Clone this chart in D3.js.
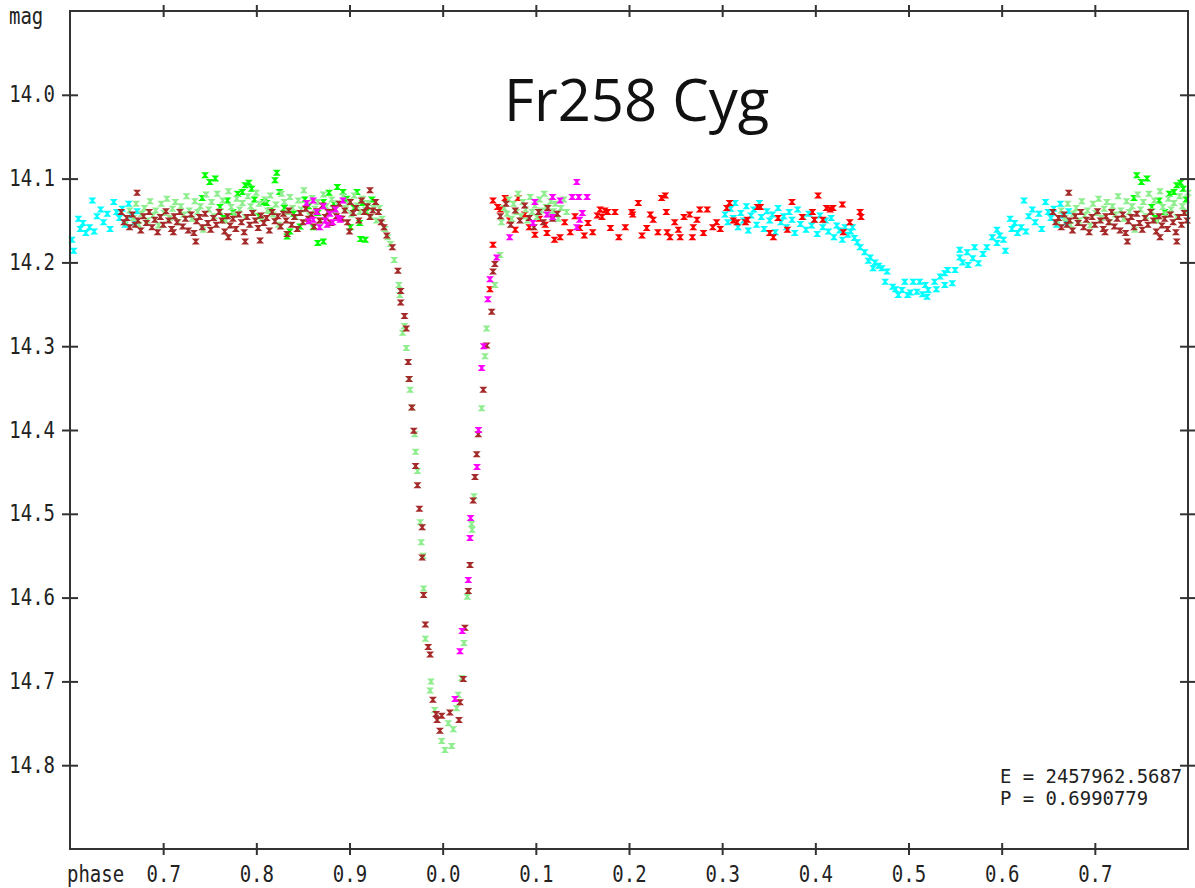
<!DOCTYPE html>
<html><head><meta charset="utf-8">
<script src="https://cdn.jsdelivr.net/npm/d3@7"></script>
<style>body{margin:0;background:#fff}svg{display:block}</style>
</head><body><svg id="c" width="1195" height="888"></svg>
<script>
// ---- data: [phase (0..1), magnitude] ----
const cyanPts = [
[0.602,14.173],[0.604,14.186],[0.609,14.148],[0.611,14.160],[0.614,14.153],[0.617,14.165],[0.621,14.158],[0.624,14.126],[0.626,14.163],[0.629,14.145],[0.633,14.137],[0.636,14.152],[0.640,14.142],[0.643,14.160],[0.647,14.128],[0.650,14.140],[0.653,14.147],[0.656,14.136],[0.659,14.155],[0.663,14.130],[0.666,14.144],[0.669,14.152],[0.672,14.139],
[0.303,14.143],[0.306,14.152],[0.309,14.136],[0.312,14.147],[0.314,14.129],[0.317,14.158],[0.320,14.141],[0.323,14.150],[0.326,14.133],[0.328,14.162],[0.331,14.144],[0.334,14.137],[0.337,14.155],[0.340,14.129],[0.342,14.146],[0.345,14.160],[0.348,14.139],[0.351,14.150],[0.354,14.143],[0.357,14.164],[0.360,14.135],[0.363,14.152],[0.366,14.145],[0.369,14.158],[0.372,14.140],[0.375,14.149],[0.378,14.165],[0.381,14.137],[0.384,14.154],[0.387,14.146],[0.390,14.161],[0.393,14.142],[0.396,14.156],[0.399,14.149],[0.402,14.166],[0.405,14.144],[0.408,14.158],[0.411,14.150],[0.414,14.163],[0.417,14.147],[0.420,14.170],[0.423,14.156],[0.426,14.162],[0.429,14.173],[0.432,14.158],[0.435,14.167],[0.438,14.163],
[0.440,14.158],[0.442,14.171],[0.445,14.176],[0.448,14.182],[0.453,14.188],[0.457,14.198],[0.459,14.194],[0.462,14.207],[0.464,14.200],[0.468,14.204],[0.4715,14.207],[0.475,14.223],[0.477,14.211],[0.483,14.229],[0.486,14.232],[0.489,14.239],[0.493,14.233],[0.496,14.223],[0.499,14.239],[0.502,14.236],[0.505,14.223],[0.509,14.235],[0.512,14.223],[0.515,14.238],[0.518,14.227],[0.520,14.241],[0.521,14.233],[0.528,14.223],[0.530,14.232],[0.534,14.217],[0.539,14.213],[0.539,14.227],[0.542,14.209],[0.547,14.225],[0.550,14.209],[0.555,14.194],[0.555,14.185],[0.558,14.200],[0.563,14.188],[0.564,14.203],[0.569,14.195],[0.571,14.182],[0.575,14.201],[0.580,14.190],[0.584,14.182],[0.590,14.170],[0.595,14.177],[0.595,14.161],[0.598,14.168]
];
const redPts = [
[0.0508,14.232],[0.054,14.179],[0.059,14.134],
[0.054,14.126],[0.062,14.137],[0.067,14.123],[0.072,14.150],[0.078,14.161],[0.081,14.123],[0.088,14.143],[0.093,14.158],[0.099,14.167],[0.104,14.148],[0.110,14.155],[0.112,14.165],[0.120,14.173],[0.126,14.170],[0.131,14.152],[0.137,14.164],[0.142,14.145],[0.147,14.159],[0.152,14.168],[0.156,14.153],[0.161,14.164],[0.166,14.144],[0.169,14.137],[0.171,14.146],[0.174,14.138],[0.177,14.140],[0.180,14.159],[0.185,14.140],[0.189,14.170],[0.196,14.158],[0.203,14.140],[0.204,14.143],[0.210,14.129],[0.214,14.168],[0.219,14.159],[0.223,14.143],[0.226,14.149],[0.231,14.164],[0.235,14.123],[0.239,14.120],[0.240,14.140],[0.241,14.164],[0.244,14.170],[0.249,14.152],[0.253,14.161],[0.255,14.170],[0.259,14.146],[0.265,14.143],[0.268,14.170],[0.269,14.158],[0.273,14.149],[0.276,14.137],[0.280,14.165],[0.284,14.137],[0.290,14.158],[0.294,14.152],[0.298,14.160],[0.305,14.135],[0.308,14.129],[0.312,14.150],[0.316,14.152],[0.325,14.152],[0.327,14.149],[0.338,14.134],[0.341,14.134],[0.351,14.165],[0.355,14.170],[0.360,14.147],[0.370,14.161],[0.375,14.128],[0.386,14.146],[0.397,14.140],[0.399,14.149],[0.403,14.120],[0.408,14.149],[0.412,14.135],[0.416,14.137],[0.419,14.135],[0.429,14.131],[0.430,14.164],[0.437,14.152],[0.448,14.140],[0.449,14.146]
];
const greenPts = [
[0.742,14.123],[0.745,14.096],[0.750,14.104],[0.756,14.100],[0.761,14.134],[0.765,14.147],[0.769,14.126],[0.775,14.140],[0.780,14.118],[0.785,14.116],[0.788,14.108],[0.792,14.105],[0.795,14.112],[0.798,14.125],[0.803,14.145],[0.808,14.128],[0.811,14.129],[0.815,14.138],[0.820,14.102],[0.822,14.093],[0.825,14.116],[0.830,14.135],[0.833,14.169],[0.836,14.163],[0.840,14.142],[0.847,14.157],[0.852,14.125],[0.856,14.133],[0.861,14.158],[0.866,14.177],[0.866,14.141],[0.872,14.175],[0.872,14.128],[0.878,14.117],[0.883,14.130],[0.887,14.110],[0.893,14.116],[0.897,14.124],[0.901,14.158],[0.905,14.135],[0.908,14.116],[0.911,14.153],[0.912,14.172],[0.914,14.129],[0.917,14.173],[0.918,14.140],[0.924,14.125]
];
const lightGreenPts = [
[0.660,14.152],[0.664,14.138],[0.668,14.147],[0.671,14.130],[0.674,14.155],[0.677,14.142],[0.680,14.135],[0.683,14.150],[0.686,14.127],[0.689,14.144],[0.692,14.138],[0.695,14.156],[0.698,14.130],[0.701,14.141],[0.704,14.124],[0.707,14.147],[0.710,14.136],[0.713,14.128],[0.716,14.152],[0.719,14.133],[0.722,14.143],[0.725,14.121],[0.728,14.138],[0.731,14.148],[0.734,14.127],[0.737,14.140],[0.740,14.133],[0.743,14.161],[0.746,14.119],[0.749,14.137],[0.752,14.128],[0.755,14.145],[0.758,14.118],[0.761,14.139],[0.764,14.126],[0.767,14.150],[0.770,14.115],[0.773,14.134],[0.776,14.143],[0.779,14.124],[0.782,14.137],[0.785,14.129],[0.788,14.146],[0.791,14.121],[0.794,14.133],[0.797,14.140],[0.800,14.117],[0.803,14.130],[0.806,14.148],[0.809,14.125],[0.812,14.138],[0.815,14.120],[0.818,14.143],[0.821,14.131],[0.824,14.155],[0.827,14.118],[0.830,14.128],[0.833,14.140],[0.836,14.122],[0.839,14.135],[0.842,14.146],[0.845,14.126],[0.848,14.137],[0.851,14.114],[0.854,14.131],[0.857,14.144],[0.860,14.123],[0.863,14.136],[0.866,14.128],[0.869,14.150],[0.872,14.119],[0.875,14.133],[0.878,14.141],[0.881,14.125],[0.884,14.138],[0.887,14.130],[0.890,14.147],[0.893,14.121],[0.896,14.135],[0.899,14.127],[0.902,14.143],[0.905,14.120],[0.908,14.132],[0.911,14.140],[0.914,14.124],[0.917,14.137],[0.920,14.129],[0.923,14.146],[0.926,14.135],[0.929,14.150],[0.932,14.135],[0.935,14.148],[0.938,14.160],[0.941,14.170],[0.944,14.178],
[0.948,14.197],[0.953,14.227],[0.954,14.239],[0.959,14.276],[0.957,14.284],[0.961,14.302],[0.964,14.339],[0.965,14.352],[0.967,14.373],[0.970,14.405],[0.971,14.426],[0.973,14.449],[0.976,14.510],[0.977,14.534],[0.979,14.550],[0.9795,14.589],[0.9815,14.649],[0.9875,14.700],[0.9865,14.711],[0.9915,14.734],[0.999,14.771],[0.0025,14.782],[0.0097,14.777],[0.006,14.750],[0.0114,14.757],[0.015,14.732],[0.0167,14.716],[0.0204,14.696],[0.0229,14.654],[0.0264,14.599],[0.0311,14.512],[0.0316,14.519],[0.0336,14.479],[0.0419,14.374],[0.0454,14.312],[0.0472,14.279],[0.0561,14.227],[0.0615,14.191],
[0.063,14.152],[0.066,14.135],[0.069,14.142],[0.071,14.125],[0.074,14.148],[0.076,14.130],[0.079,14.140],[0.081,14.118],[0.084,14.145],[0.086,14.128],[0.089,14.137],[0.091,14.150],[0.094,14.122],[0.096,14.140],[0.099,14.132],[0.101,14.146],[0.104,14.125],[0.106,14.138],[0.109,14.118],[0.111,14.134],[0.114,14.143],[0.116,14.127],[0.119,14.139],[0.121,14.130],[0.124,14.148],[0.127,14.135],[0.130,14.125],[0.133,14.140]
];
const brownPts = [
[0.655,14.140],[0.658,14.152],[0.661,14.147],[0.664,14.158],[0.667,14.143],[0.670,14.155],[0.672,14.117],[0.673,14.150],[0.676,14.162],[0.679,14.145],[0.682,14.153],[0.685,14.140],[0.688,14.158],[0.691,14.149],[0.694,14.164],[0.697,14.146],[0.700,14.155],[0.703,14.139],[0.706,14.150],[0.709,14.160],[0.711,14.164],[0.712,14.145],[0.715,14.152],[0.718,14.140],[0.721,14.157],[0.724,14.148],[0.727,14.162],[0.730,14.143],[0.733,14.165],[0.735,14.175],[0.736,14.151],[0.739,14.146],[0.742,14.158],[0.745,14.142],[0.748,14.153],[0.751,14.161],[0.754,14.147],[0.757,14.155],[0.760,14.140],[0.763,14.150],[0.766,14.163],[0.769,14.145],[0.770,14.170],[0.772,14.156],[0.775,14.148],[0.778,14.160],[0.781,14.143],[0.784,14.152],[0.787,14.164],[0.788,14.175],[0.790,14.146],[0.793,14.155],[0.796,14.141],[0.799,14.150],[0.802,14.159],[0.804,14.174],[0.805,14.144],[0.808,14.153],[0.811,14.147],[0.814,14.162],[0.817,14.140],[0.820,14.151],[0.823,14.145],[0.826,14.157],[0.829,14.142],[0.832,14.150],[0.833,14.166],[0.835,14.138],[0.838,14.155],[0.841,14.146],[0.844,14.160],[0.847,14.141],[0.850,14.152],[0.853,14.136],[0.856,14.148],[0.859,14.143],[0.862,14.157],[0.865,14.139],[0.868,14.150],[0.871,14.132],[0.874,14.146],[0.877,14.140],[0.880,14.153],[0.883,14.135],[0.886,14.145],[0.889,14.130],[0.892,14.148],[0.895,14.138],[0.898,14.152],[0.900,14.163],[0.901,14.128],[0.904,14.141],[0.907,14.135],[0.910,14.150],[0.913,14.126],[0.916,14.140],[0.919,14.133],[0.922,14.114],[0.922,14.146],[0.925,14.138],[0.928,14.128],[0.931,14.140],[0.934,14.152],[0.937,14.158],[0.940,14.168],[0.946,14.182],
[0.952,14.210],[0.955,14.234],[0.955,14.248],[0.959,14.264],[0.961,14.279],[0.963,14.319],[0.964,14.339],[0.967,14.373],[0.969,14.401],[0.971,14.443],[0.973,14.466],[0.975,14.494],[0.978,14.516],[0.978,14.552],[0.9795,14.597],[0.9815,14.632],[0.9845,14.659],[0.9865,14.668],[0.9895,14.722],[0.993,14.739],[0.994,14.746],[0.999,14.741],[0.997,14.759],[0.0078,14.737],[0.0186,14.725],[0.0175,14.746],[0.0221,14.697],[0.0239,14.636],[0.0275,14.592],[0.0293,14.561],[0.0328,14.484],[0.0347,14.456],[0.0365,14.429],[0.0382,14.405],[0.0436,14.352],[0.0472,14.299],[0.0526,14.259],[0.054,14.211],[0.0561,14.202],
[0.062,14.145],[0.068,14.130],[0.073,14.155],[0.078,14.138],[0.083,14.150],[0.088,14.132],[0.093,14.147],[0.098,14.158],[0.103,14.140],[0.108,14.152],[0.113,14.135],[0.118,14.148],[0.123,14.142]
];
const magentaPts = [
[0.854,14.129],[0.856,14.151],[0.861,14.126],[0.861,14.149],[0.865,14.140],[0.868,14.158],[0.872,14.133],[0.874,14.150],[0.876,14.155],[0.879,14.142],[0.882,14.152],[0.885,14.137],[0.888,14.147],[0.890,14.149],[0.893,14.126],
[0.0132,14.721],[0.0186,14.664],[0.0210,14.640],[0.0275,14.579],[0.0293,14.529],[0.0300,14.505],[0.0368,14.444],[0.0385,14.400],[0.0419,14.326],[0.0440,14.300],[0.0486,14.244],[0.0508,14.220],[0.058,14.194],
[0.072,14.170],[0.097,14.153],[0.099,14.128],[0.112,14.143],[0.118,14.146],[0.118,14.122],[0.126,14.126],[0.139,14.122],[0.144,14.104],[0.144,14.158],[0.146,14.122],[0.147,14.149],[0.150,14.141],[0.155,14.122]
];
const seriesList = [
  {name:"cyan", color:"#00ffff", pts:cyanPts},
  {name:"red", color:"#ff0000", pts:redPts},
  {name:"green", color:"#00ff00", pts:greenPts},
  {name:"lightgreen", color:"#90ee90", pts:lightGreenPts},
  {name:"brown", color:"#a52a2a", pts:brownPts},
  {name:"magenta", color:"#ff00ff", pts:magentaPts}
];
const xTickValues = [0.7,0.8,0.9,1.0,1.1,1.2,1.3,1.4,1.5,1.6,1.7];
const xTickLabels = ["0.7","0.8","0.9","0.0","0.1","0.2","0.3","0.4","0.5","0.6","0.7"];
const yTickValues = [14.0,14.1,14.2,14.3,14.4,14.5,14.6,14.7,14.8];
const yTickLabels = ["14.0","14.1","14.2","14.3","14.4","14.5","14.6","14.7","14.8"];
const titleText = "Fr258 Cyg";
const infoLines = ["E = 2457962.5687","P = 0.6990779"];

// ---- drawing ----
const svg = d3.select("#c");
const L=70, T=11, R=1188, B=849;
const x = d3.scaleLinear().domain([0.6,1.8]).range([L,R]);
const y = d3.scaleLinear().domain([13.9,14.9]).range([T,B]);
const FONT = "'DejaVu Sans Mono', monospace";
const SY = 1.2;
const AX = "#333";

function unwrap(p){ const out=[]; for (const u of [p,p+1]) if (u>=0.6 && u<=1.8) out.push(u); return out; }

const marker = "M-4,-3H4L1.1,0L4,3H-4L-1.1,0Z";
const gPts = svg.append("g");
seriesList.forEach(s=>{
  const flat=[];
  s.pts.forEach(([p,m])=>unwrap(p).forEach(u=>flat.push([u,m])));
  gPts.append("g").selectAll("path").data(flat).join("path")
    .attr("d",marker)
    .attr("transform",d=>`translate(${x(d[0]).toFixed(1)},${y(d[1]).toFixed(1)})`)
    .attr("fill",s.color);
});

// frame
svg.append("rect").attr("x",L).attr("y",T).attr("width",R-L).attr("height",B-T)
  .attr("fill","none").attr("stroke",AX).attr("stroke-width",2);

// bottom axis
const gx = svg.append("g").attr("transform",`translate(0,${B})`)
  .call(d3.axisBottom(x).tickValues(xTickValues).tickFormat((d,i)=>xTickLabels[i]));
gx.select(".domain").remove();
gx.selectAll(".tick line").attr("y1",-6).attr("y2",6).attr("stroke",AX).attr("stroke-width",2);
gx.selectAll(".tick text").attr("dy",null).attr("y",33/SY).attr("transform",`scale(1,${SY})`)
  .attr("font-family",FONT).attr("font-size",19).attr("fill","#222");

// top axis (ticks only)
const gt = svg.append("g").attr("transform",`translate(0,${T})`)
  .call(d3.axisTop(x).tickValues(xTickValues).tickFormat(""));
gt.select(".domain").remove();
gt.selectAll(".tick line").attr("y1",-6).attr("y2",6).attr("stroke",AX).attr("stroke-width",2);

// left axis
const gy = svg.append("g").attr("transform",`translate(${L},0)`)
  .call(d3.axisLeft(y).tickValues(yTickValues).tickFormat((d,i)=>yTickLabels[i]));
gy.select(".domain").remove();
gy.selectAll(".tick line").attr("x1",-8).attr("x2",8).attr("stroke",AX).attr("stroke-width",2);
gy.selectAll(".tick text").attr("dy",null).attr("x",-15).attr("y",7/SY).attr("transform",`scale(1,${SY})`)
  .attr("text-anchor","end").attr("font-family",FONT).attr("font-size",19).attr("fill","#222");

// right axis (ticks only)
const gr = svg.append("g").attr("transform",`translate(${R},0)`)
  .call(d3.axisRight(y).tickValues(yTickValues).tickFormat(""));
gr.select(".domain").remove();
gr.selectAll(".tick line").attr("x1",-8).attr("x2",7).attr("stroke",AX).attr("stroke-width",2);

function label(txt, tx, ty, size, sx, sy){
  svg.append("text").attr("transform",`translate(${tx},${ty}) scale(${sx},${sy})`)
    .attr("font-family",FONT).attr("font-size",size).attr("fill","#222").text(txt);
}
label("mag", 9, 24, 19, 1, SY);
label("phase", 67, 882, 19, 1, SY);
label(infoLines[0], 1000, 783, 18, 1.052, 1.04);
label(infoLines[1], 1000, 805, 18, 1.052, 1.04);

svg.append("text").attr("x",504).attr("y",121)
  .attr("font-family","'Open Sans', sans-serif").attr("font-size",58).attr("fill","#111")
  .text(titleText);
</script></body></html>
